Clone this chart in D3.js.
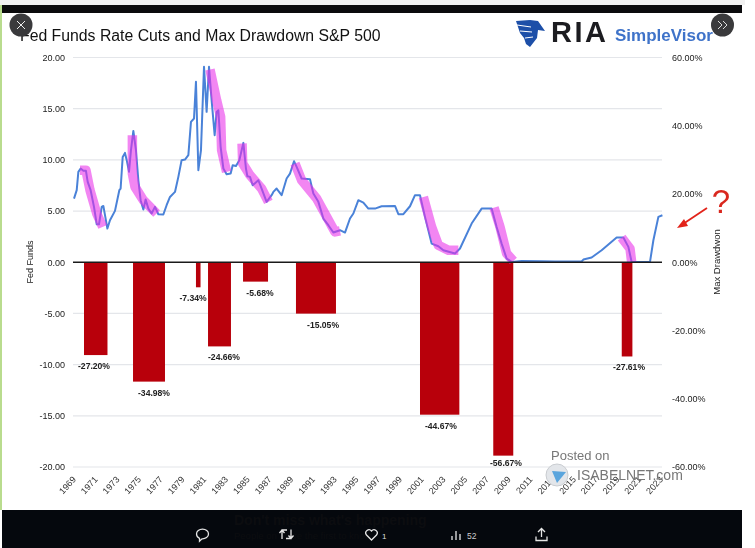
<!DOCTYPE html>
<html><head><meta charset="utf-8">
<script src="https://cdnjs.cloudflare.com/ajax/libs/d3/7.8.5/d3.min.js"></script>
<style>html,body{margin:0;padding:0;background:#fff}svg{display:block}text{font-family:"Liberation Sans",Arial,sans-serif}</style>
</head><body><svg id="c" width="755" height="548"></svg>
<script>
const title = "Fed Funds Rate Cuts and Max Drawdown S&P 500";
const fedFunds = [[1969,6.22],[1969.25,7.04],[1969.4,8.83],[1969.61,9.15],[1969.86,8.93],[1970.1,8.93],[1970.26,7.85],[1970.53,7.04],[1970.84,5.41],[1971.09,3.71],[1971.3,3.71],[1971.55,5.41],[1971.7,5.5],[1971.88,4.43],[1972.07,3.29],[1972.31,4.1],[1972.77,5.02],[1973.17,7.04],[1973.29,7.2],[1973.48,10.29],[1973.69,10.68],[1973.85,9.97],[1974.06,8.83],[1974.24,10.94],[1974.46,12.83],[1974.7,10.94],[1974.92,8.01],[1975.13,6.06],[1975.38,5.15],[1975.59,6.12],[1975.84,5.24],[1976.14,4.76],[1976.45,5.41],[1976.76,4.69],[1977.22,4.66],[1977.52,5.57],[1977.83,6.38],[1978.29,6.87],[1978.6,8.34],[1978.9,9.97],[1979.21,10.03],[1979.52,10.46],[1979.76,13.71],[1980.04,14.04],[1980.22,17.62],[1980.44,8.99],[1980.68,10.94],[1980.96,19.09],[1981.2,14.69],[1981.42,19.09],[1981.66,15.83],[1981.94,12.41],[1982.12,14.69],[1982.28,14.85],[1982.49,11.27],[1982.74,9.15],[1983.04,8.6],[1983.41,8.66],[1983.6,9.48],[1983.9,9.41],[1984.21,9.97],[1984.58,11.66],[1984.82,9.15],[1984.95,8.4],[1985.19,8.34],[1985.44,7.52],[1985.96,8.01],[1986.26,7.2],[1986.72,5.9],[1987.18,6.55],[1987.34,6.87],[1987.64,7.2],[1988.1,6.55],[1988.56,8.18],[1988.87,8.66],[1989.24,9.87],[1989.48,9.32],[1989.94,8.18],[1990.71,8.11],[1991.02,6.71],[1991.48,5.9],[1991.94,4.27],[1992.4,3.62],[1992.86,2.9],[1993.47,3.13],[1993.93,2.9],[1994.39,4.27],[1994.7,4.76],[1995.16,6.06],[1995.62,5.83],[1996.08,5.24],[1996.69,5.24],[1997.3,5.47],[1998.53,5.5],[1998.84,4.69],[1999.3,4.69],[1999.91,5.47],[2000.37,6.55],[2000.83,6.55],[2001.29,4.43],[2001.9,1.82],[2002.52,1.56],[2002.98,1.17],[2004.05,0.85],[2004.51,1.34],[2005.58,3.78],[2006.5,5.24],[2007.42,5.24],[2007.88,3.45],[2008.34,1.82],[2008.8,0.36],[2009.26,0.03],[2010.18,0.13],[2012.02,0.1],[2013.25,0.07],[2015.7,0.07],[2015.86,0.26],[2016.62,0.46],[2017.54,1.17],[2018.92,2.41],[2019.54,2.41],[2020,1.5],[2020.3,0.03],[2021.99,0.03],[2022.3,2.15],[2022.76,4.43],[2023.13,4.59]];
const cutBands = [
 [[1969.55,8.99],[1970.1,8.99],[1970.47,7.04],[1971.09,4.76],[1971.64,3.45]],
 [[1974.37,12.41],[1974.37,8.66],[1974.61,7.36],[1975.38,6.06],[1976.6,4.76]],
 [[1981.51,18.83],[1982.12,15.83],[1982.49,14.2],[1982.58,10.94],[1983.04,8.83]],
 [[1984.46,11.6],[1984.52,9.64],[1985.19,8.5],[1986.26,7.2],[1986.88,5.9]],
 [[1989.33,9.64],[1989.94,8.01],[1991.32,6.22],[1993.01,2.96],[1993.47,3.06]],
 [[2001.14,6.38],[2001.9,3.45],[2002.52,1.66],[2003.44,1.17],[2004.36,1.17]],
 [[2007.64,5.34],[2008.19,3.45],[2008.8,0.85],[2009.42,0.13]],
 [[2019.38,2.41],[2020.15,1.34],[2020.3,0.03]]
];
const barStart = [1969.92,1974.43,1980.22,1981.33,1984.55,1989.42,2000.83,2007.57,2019.39];
const barEnd   = [1972.08,1977.37,1980.64,1983.44,1986.85,1993.1,2004.45,2009.41,2020.37];
const drawdown = [-27.20,-34.98,-7.34,-24.66,-5.68,-15.05,-44.67,-56.67,-27.61];
const labelYear = [1970.84,1976.36,1979.95,1982.8,1986.11,1991.91,2002.76,2008.74,2020.06];
const leftTicks = [20,15,10,5,0,-5,-10,-15,-20];
const rightTicks = [60,40,20,0,-20,-40,-60];
const yearTicks = d3.range(1969,2024,2);

const svg = d3.select("#c");
const x = d3.scaleLinear().domain([1969,2023.13]).range([74,662.4]);
const yL = d3.scaleLinear().domain([-20,20]).range([467,57.5]);
const yR = d3.scaleLinear().domain([-60,60]).range([467,57.5]);
const fmt = d => d3.format(".2f")(d).replace("\u2212","-");

// page chrome
svg.append("rect").attr("width",755).attr("height",548).attr("fill","#fff");
svg.append("rect").attr("x",0).attr("y",0).attr("width",745).attr("height",5).attr("fill","#f1f1f1");
svg.append("rect").attr("x",0).attr("y",5).attr("width",2).attr("height",505).attr("fill","#b9dc8e");
svg.append("rect").attr("x",2).attr("y",5).attr("width",740).attr("height",8).attr("fill","#0b0b0d");

const chart = svg.append("g").style("filter","blur(0.45px)");
// grid
chart.append("g").selectAll("line").data(leftTicks.filter(d=>d!==0)).join("line")
 .attr("x1",73).attr("x2",662).attr("y1",d=>yL(d)).attr("y2",d=>yL(d))
 .attr("stroke","#e4e6ea").attr("stroke-width",1.2);

// bars
chart.append("g").selectAll("rect").data(drawdown).join("rect")
 .attr("x",(d,i)=>x(barStart[i])).attr("width",(d,i)=>x(barEnd[i])-x(barStart[i]))
 .attr("y",yR(0)).attr("height",d=>yR(d)-yR(0)).attr("fill","#b8000b");

// fed funds line
const line = d3.line().x(d=>x(d[0])).y(d=>yL(d[1]));
chart.append("path").datum(fedFunds).attr("d",line).attr("fill","none")
 .attr("stroke","#4a82d8").attr("stroke-width",2).attr("stroke-linejoin","round");
// highlight bands
chart.append("g").selectAll("path").data(cutBands).join("path").attr("d",line)
 .attr("fill","none").attr("stroke","#e92ee9").attr("stroke-opacity",0.58)
 .attr("stroke-width",9.5).attr("stroke-linejoin","round").attr("stroke-linecap","butt");
// zero line
chart.append("line").attr("x1",73).attr("x2",662).attr("y1",yL(0)).attr("y2",yL(0)).attr("stroke","#1a1a1a").attr("stroke-width",1.6);

// axes
const axL = chart.append("g").attr("transform","translate(65,0)")
 .call(d3.axisLeft(yL).tickValues(leftTicks).tickSize(0).tickPadding(0).tickFormat(fmt));
const axR = chart.append("g").attr("transform","translate(672,0)")
 .call(d3.axisRight(yR).tickValues(rightTicks).tickSize(0).tickPadding(0).tickFormat(d=>fmt(d)+"%"));
const axB = chart.append("g").attr("transform","translate(0,478)")
 .call(d3.axisBottom(x).tickValues(yearTicks).tickSize(0).tickPadding(0).tickFormat(d3.format("d")));
[axL,axR,axB].forEach(a=>{a.select(".domain").remove();a.selectAll("text").attr("fill","#222").style("font-size","9px").style("font-family","'Liberation Sans',Arial,sans-serif");});
axB.selectAll("text").attr("text-anchor","end").attr("dy",0).attr("y",0).attr("x",0).attr("dx",3).attr("transform","translate(0,4) rotate(-48)").attr("fill","#333");

// axis titles
chart.append("text").attr("transform","translate(33,262) rotate(-90)").attr("text-anchor","middle").attr("font-size",9).attr("fill","#222").text("Fed Funds");
chart.append("text").attr("transform","translate(720,262) rotate(-90)").attr("text-anchor","middle").attr("font-size",9.5).attr("fill","#222").text("Max Drawdwon");

// bar labels
chart.append("g").selectAll("text").data(drawdown).join("text")
 .attr("x",(d,i)=>x(labelYear[i])).attr("y",d=>yR(d)+(d<-50?10:14))
 .attr("text-anchor","middle").attr("font-size",8.6).attr("font-weight","bold").attr("fill","#222")
 .text(d=>fmt(d)+"%");

// title
chart.append("text").attr("x",20).attr("y",41).attr("font-size",15.8).attr("fill","#111").text(title);

// logo
chart.append("path").attr("d","M516 21 L530 20 L538 21 L545 31 L538 30 L537 38 L530 47 L526 44 L524 38 L520 33 L518 27 Z").attr("fill","#1d4fa8");
chart.append("path").attr("d","M517 25 L531 27 M520 31 L532 32 M525 38 L533 37").attr("stroke","#fff").attr("stroke-width",1).attr("fill","none");
chart.append("text").attr("x",551).attr("y",42).attr("font-size",29).attr("font-weight","bold").attr("fill","#1c1c20").attr("letter-spacing","2.5").text("RIA");
chart.append("text").attr("x",615).attr("y",41).attr("font-size",17).attr("font-weight","bold").attr("fill","#3f73c9").text("SimpleVisor");

// annotation
chart.append("line").attr("x1",707).attr("y1",208).attr("x2",683).attr("y2",224).attr("stroke","#e2231a").attr("stroke-width",1.8);
chart.append("path").attr("d","M677 228 L684 219 L688 226 Z").attr("fill","#e2231a");
chart.append("text").attr("x",721).attr("y",213).attr("text-anchor","middle").attr("font-size",33).attr("fill","#d9271e").text("?");

// watermark
chart.append("text").attr("x",551).attr("y",460).attr("font-size",13).attr("fill","#777").text("Posted on");
chart.append("circle").attr("cx",557).attr("cy",475).attr("r",11).attr("fill","#e3e6ea").attr("stroke","#c9ccd0");
chart.append("path").attr("d","M552 471 L566 472 L557 483 Z").attr("fill","#5aa5dd");
chart.append("text").attr("x",577).attr("y",480).attr("font-size",14).attr("fill","#777").text("ISABELNET.com");

// bottom bar
svg.append("rect").attr("x",2).attr("y",510).attr("width",740).attr("height",38).attr("fill","#05080d");
svg.append("text").attr("x",234).attr("y",525).attr("font-size",14).attr("font-weight","bold").attr("fill","#0c0d10").text("Don't miss what's happening");
svg.append("text").attr("x",234).attr("y",539).attr("font-size",9.5).attr("fill","#0c0d10").text("People on X are the first to know.");
const ic = svg.append("g").attr("fill","none").attr("stroke","#e6e6e6").attr("stroke-width",1.3);
ic.append("path").attr("d","M196.500 534 a6 4.800 0 0 1 12 0 a6 4.800 0 0 1 -6.500 4.800 l-2.500 2.500 v-3 a5 4.800 0 0 1 -3 -4.300 Z");
ic.append("path").attr("d","M282 539 v-9 h5 M279.500 533 l2.500 -3 l2.500 3 M291 529.500 v9 h-5 M288.500 535.500 l2.500 3 l2.500 -3");
ic.append("path").attr("d","M371.500 540 l-5 -5 a3 3 0 0 1 5 -4 a3 3 0 0 1 5 4 Z");
ic.append("path").attr("d","M452 540 v-4 M456 540 v-9 M460 540 v-6");
ic.append("path").attr("d","M536 536.500 v4 h11 v-4 M541.500 537 v-8 M538 532 l3.500 -3.500 l3.500 3.500");
svg.append("text").attr("x",382).attr("y",539).attr("font-size",8).attr("fill","#ddd").text("1");
svg.append("text").attr("x",467).attr("y",539).attr("font-size",8.500).attr("fill","#ccc").text("52");

// overlay buttons
svg.append("circle").attr("cx",21).attr("cy",25).attr("r",11.5).attr("fill","#3a3a3c");
svg.append("path").attr("d","M17 21 L25 29 M25 21 L17 29").attr("stroke","#eee").attr("stroke-width",1);
svg.append("circle").attr("cx",722.500).attr("cy",25).attr("r",11.5).attr("fill","#3a3a3c");
svg.append("path").attr("d","M718 21 L722 25 L718 29 M723 21 L727 25 L723 29").attr("stroke","#ddd").attr("stroke-width",1).attr("fill","none");
</script></body></html>
